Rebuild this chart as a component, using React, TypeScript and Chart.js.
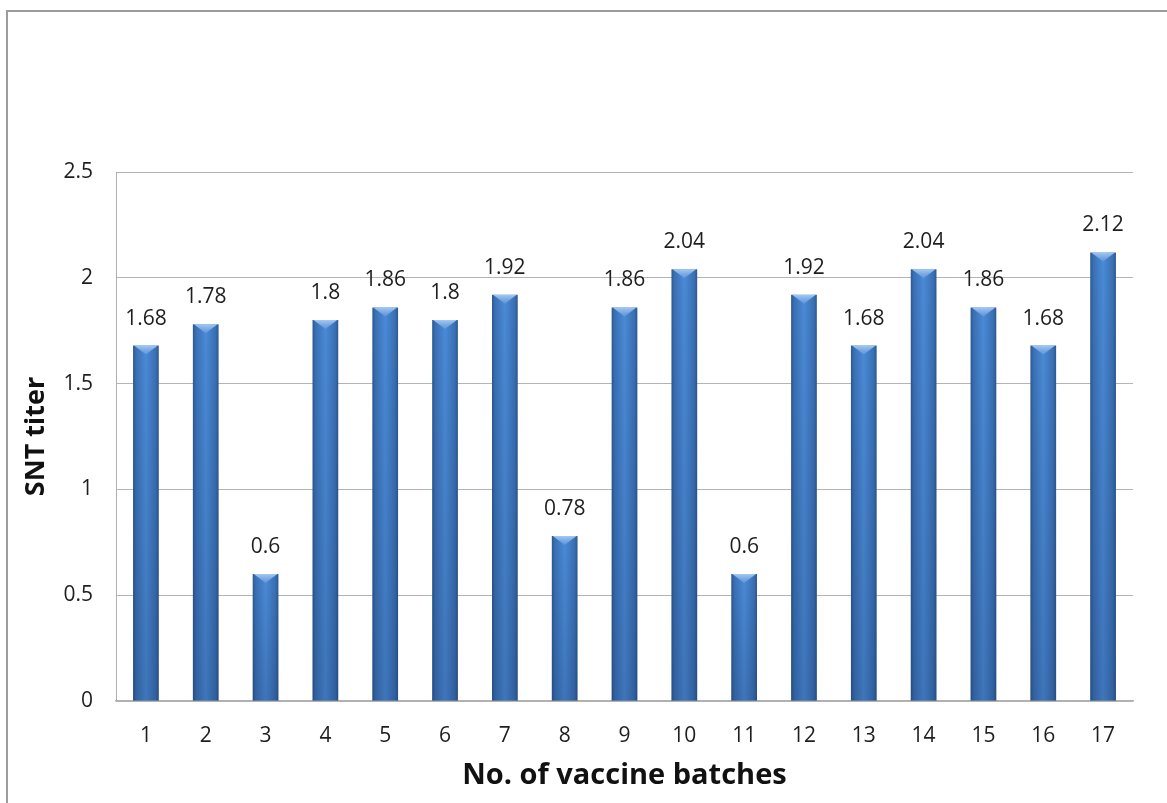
import React, { useEffect, useRef } from "react";
import { Chart, registerables } from "chart.js";

Chart.register(...registerables);

const categories = ["1", "2", "3", "4", "5", "6", "7", "8", "9", "10", "11", "12", "13", "14", "15", "16", "17"];
const sntTiter = [1.68, 1.78, 0.6, 1.8, 1.86, 1.8, 1.92, 0.78, 1.86, 2.04, 0.6, 1.92, 1.68, 2.04, 1.86, 1.68, 2.12];
const yTicks = [0, 0.5, 1, 1.5, 2, 2.5];

const FONT = "'Open Sans', 'Liberation Sans', sans-serif";
const BAR_PCT = 0.43;

const barDecor = {
  id: "barDecor",
  afterDatasetsDraw(chart: any) {
    const ctx = chart.ctx;
    const meta = chart.getDatasetMeta(0);
    const base = chart.scales.y.getPixelForValue(0);
    meta.data.forEach((el: any, i: number) => {
      const { x, y, width } = el.getProps(["x", "y", "width"], true);
      const l = x - width / 2;
      const r = x + width / 2;
      const vg = ctx.createLinearGradient(0, y, 0, base);
      vg.addColorStop(0, "rgba(0,10,40,0)");
      vg.addColorStop(1, "rgba(0,10,40,0.16)");
      ctx.save();
      ctx.fillStyle = vg;
      ctx.fillRect(l, y, width, base - y);
      const h = Math.min(9, (base - y) / 2);
      const tg = ctx.createLinearGradient(0, y, 0, y + h);
      tg.addColorStop(0, "rgba(170,205,245,0.95)");
      tg.addColorStop(1, "rgba(110,160,225,0.6)");
      ctx.beginPath();
      ctx.moveTo(l + 1, y);
      ctx.lineTo(r - 1, y);
      ctx.lineTo(x, y + h);
      ctx.closePath();
      ctx.fillStyle = tg;
      ctx.fill();
      ctx.restore();
      ctx.save();
      ctx.font = `21px ${FONT}`;
      ctx.fillStyle = "#1e1e1e";
      ctx.textAlign = "center";
      ctx.textBaseline = "alphabetic";
      ctx.fillText(String(sntTiter[i]), x, y - 21);
      ctx.restore();
    });
  },
};

export default function App() {
  const canvasRef = useRef<HTMLCanvasElement | null>(null);

  useEffect(() => {
    const canvas = canvasRef.current;
    if (!canvas) return;
    const chart = new Chart(canvas, {
      type: "bar",
      data: {
        labels: categories,
        datasets: [
          {
            label: "SNT titer",
            data: sntTiter,
            barPercentage: BAR_PCT,
            categoryPercentage: 1,
            borderWidth: 0,
            backgroundColor: (c: any) => {
              const ch = c.chart;
              const xs = ch.scales?.x;
              if (!xs || c.type !== "data" || !ch.ctx) return "#4a86d0";
              const cx = xs.getPixelForValue(c.dataIndex);
              const hw = ((xs.width / categories.length) * BAR_PCT) / 2;
              if (!isFinite(cx) || !isFinite(hw) || hw <= 0) return "#4a86d0";
              const g = ch.ctx.createLinearGradient(cx - hw, 0, cx + hw, 0);
              g.addColorStop(0, "#2c5890");
              g.addColorStop(0.12, "#3a70b4");
              g.addColorStop(0.5, "#4a8ad6");
              g.addColorStop(0.88, "#3a70b4");
              g.addColorStop(1, "#2c5890");
              return g;
            },
          },
        ],
      },
      options: {
        responsive: false,
        animation: false,
        events: [],
        layout: { padding: { left: 0, right: 34, top: 172, bottom: 0 } },
        plugins: {
          legend: { display: false },
          tooltip: { enabled: false },
        },
        scales: {
          x: {
            grid: { display: false, drawTicks: false },
            border: { display: true, color: "#b0b0b0", width: 1.5 },
            ticks: { font: { family: FONT, size: 21 }, color: "#1e1e1e", padding: 22 },
            title: {
              display: true,
              text: "No. of vaccine batches",
              font: { family: FONT, size: 29, weight: "bold" },
              color: "#111",
              padding: { top: 0, bottom: 10 },
            },
            afterFit: (s: any) => {
              s.height = 102;
            },
          },
          y: {
            min: 0,
            max: 2.5,
            afterBuildTicks: (s: any) => {
              s.ticks = yTicks.map((v) => ({ value: v }));
            },
            grid: { color: "#b4b4b4", drawTicks: false, lineWidth: 1 },
            border: { display: true, color: "#b0b0b0", width: 1 },
            ticks: {
              font: { family: FONT, size: 21 },
              color: "#1e1e1e",
              padding: 23,
              callback: (v: any) => String(v),
            },
            title: {
              display: true,
              text: "SNT titer",
              font: { family: FONT, size: 27, weight: "bold" },
              color: "#111",
              padding: { top: 20, bottom: 0 },
            },
            afterFit: (s: any) => {
              s.width = 116;
            },
          },
        },
      },
      plugins: [barDecor],
    } as any);
    return () => chart.destroy();
  }, []);

  return (
    <div
      style={{
        position: "fixed",
        left: 0,
        top: 0,
        width: 1167,
        height: 803,
        overflow: "hidden",
        background: "#ffffff",
      }}
    >
      <canvas ref={canvasRef} width={1167} height={803} style={{ position: "absolute", left: 0, top: 0, width: 1167, height: 803 }} />
      <div
        style={{
          position: "absolute",
          left: 6,
          top: 10,
          width: 1300,
          height: 900,
          border: "2px solid #9c9c9c",
          boxSizing: "border-box",
          pointerEvents: "none",
        }}
      />
    </div>
  );
}
